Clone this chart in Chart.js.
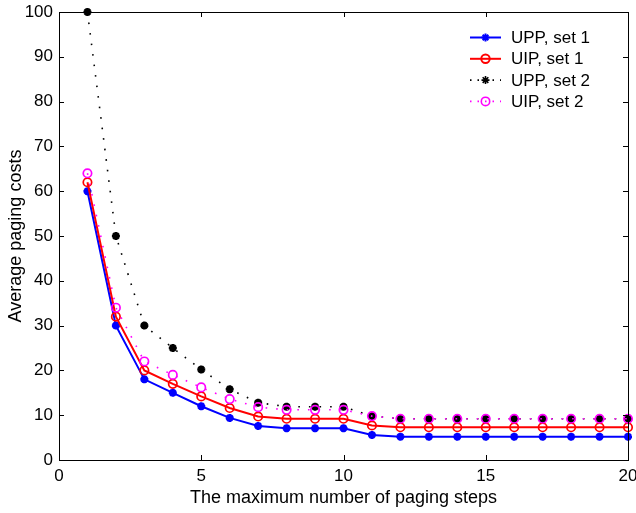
<!DOCTYPE html>
<html lang="en">
<head>
    <meta charset="UTF-8">
    <title>Average paging costs</title>
    <script src="https://cdn.jsdelivr.net/npm/chart.js"></script>
    <style>
        body { margin: 0; background: #fff; }
    </style>
</head>
<body>
    <canvas id="pagingChart" width="636" height="513"></canvas>

    <script>
        // values
        const steps = [1, 2, 3, 4, 5, 6, 7, 8, 9, 10, 11, 12, 13, 14, 15, 16, 17, 18, 19, 20];
        const uppSet1 = [60, 30, 18, 15, 12, 9.4, 7.6, 7.1, 7.1, 7.1, 5.6, 5.2, 5.2, 5.2, 5.2, 5.2, 5.2, 5.2, 5.2, 5.2];
        const uipSet1 = [62, 32, 20, 17, 14.2, 11.6, 9.7, 9.2, 9.2, 9.2, 7.7, 7.3, 7.3, 7.3, 7.3, 7.3, 7.3, 7.3, 7.3, 7.3];
        const uppSet2 = [100, 50, 30, 25, 20.2, 15.8, 12.8, 11.9, 11.9, 11.9, 9.8, 9.2, 9.2, 9.2, 9.2, 9.2, 9.2, 9.2, 9.2, 9.2];
        const uipSet2 = [64, 34, 22, 19, 16.2, 13.6, 11.8, 11.2, 11.2, 11.2, 9.8, 9.2, 9.2, 9.2, 9.2, 9.2, 9.2, 9.2, 9.2, 9.2];

        const xTicks = [0, 5, 10, 15, 20];
        const yTicks = [0, 10, 20, 30, 40, 50, 60, 70, 80, 90, 100];

        const points = vals => steps.map((s, i) => ({ x: s, y: vals[i] }));

        Chart.defaults.font.family = '"Liberation Sans", Arial, Helvetica, sans-serif';
        Chart.defaults.font.size = 17;
        Chart.defaults.color = '#000';

        // matlab style box with inward ticks
        const framePlugin = {
            id: 'frame',
            afterDatasetsDraw(chart) {
                const { ctx, chartArea: a, scales } = chart;
                const len = 5;
                ctx.save();
                ctx.strokeStyle = '#000';
                ctx.lineWidth = 1;
                ctx.beginPath();
                xTicks.forEach(v => {
                    const px = Math.round(scales.x.getPixelForValue(v)) + 0.5;
                    ctx.moveTo(px, a.bottom); ctx.lineTo(px, a.bottom - len);
                    ctx.moveTo(px, a.top); ctx.lineTo(px, a.top + len);
                });
                yTicks.forEach(v => {
                    const py = Math.round(scales.y.getPixelForValue(v)) + 0.5;
                    ctx.moveTo(a.left, py); ctx.lineTo(a.left + len, py);
                    ctx.moveTo(a.right, py); ctx.lineTo(a.right - len, py);
                });
                ctx.stroke();
                ctx.strokeRect(Math.round(a.left) + 0.5, Math.round(a.top) + 0.5,
                    Math.round(a.right - a.left), Math.round(a.bottom - a.top));
                ctx.restore();
            }
        };

        // legend in the top right corner, line + marker + label
        const legendPlugin = {
            id: 'boxLegend',
            afterDraw(chart) {
                const { ctx, chartArea: a } = chart;
                const x0 = a.right - 158, x1 = a.right - 127, tx = a.right - 117;
                ctx.save();
                chart.data.datasets.forEach((ds, i) => {
                    const y = a.top + 25.5 + i * 21.3;
                    ctx.strokeStyle = ds.borderColor;
                    ctx.lineWidth = ds.borderWidth;
                    ctx.setLineDash(ds.borderDash.length ? [1.5, 6] : []);
                    ctx.beginPath();
                    ctx.moveTo(x0, y); ctx.lineTo(x1, y);
                    ctx.stroke();
                    ctx.setLineDash([]);
                    ctx.strokeStyle = ds.pointBorderColor;
                    ctx.fillStyle = ds.pointBackgroundColor;
                    Chart.helpers.drawPoint(ctx, {
                        pointStyle: ds.pointStyle,
                        radius: ds.pointRadius,
                        borderWidth: ds.pointBorderWidth,
                        rotation: 0
                    }, (x0 + x1) / 2, y);
                    ctx.fillStyle = '#000';
                    ctx.font = '17px "Liberation Sans", Arial, sans-serif';
                    ctx.textBaseline = 'middle';
                    ctx.textAlign = 'left';
                    ctx.fillText(ds.label, tx, y + 1);
                });
                ctx.restore();
            }
        };

        function series(label, vals, color, dotted, style, order) {
            return {
                label: label,
                data: points(vals),
                borderColor: color,
                borderWidth: dotted ? 1.6 : 2,
                borderDash: dotted ? [1.6, 9] : [],
                pointStyle: style,
                pointRadius: style === 'star' ? 4 : 4.2,
                pointBorderWidth: style === 'star' ? 2.6 : 1.7,
                pointBorderColor: color,
                pointBackgroundColor: style === 'star' ? color : 'rgba(0,0,0,0)',
                tension: 0,
                clip: false,
                order: order
            };
        }

        new Chart(document.getElementById('pagingChart').getContext('2d'), {
            type: 'line',
            data: {
                datasets: [
                    series('UPP, set 1', uppSet1, '#0000ff', false, 'star', 3),
                    series('UIP, set 1', uipSet1, '#ff0000', false, 'circle', 2),
                    series('UPP, set 2', uppSet2, '#000000', true, 'star', 1),
                    series('UIP, set 2', uipSet2, '#ff00ff', true, 'circle', 0)
                ]
            },
            options: {
                responsive: false,
                animation: false,
                layout: { padding: { top: 12, right: 8, left: 0, bottom: 0 } },
                plugins: {
                    legend: { display: false },
                    tooltip: { enabled: false }
                },
                scales: {
                    x: {
                        type: 'linear',
                        min: 0,
                        max: 20,
                        grid: { display: false, drawTicks: false },
                        border: { display: false },
                        afterBuildTicks: s => { s.ticks = xTicks.map(v => ({ value: v })); },
                        ticks: { padding: 6, maxRotation: 0 },
                        title: {
                            display: true,
                            text: 'The maximum number of paging steps',
                            font: { size: 18 },
                            padding: { top: 0, bottom: 4 }
                        },
                        afterFit: s => { s.height = 53; s.paddingLeft = 0; s.paddingRight = 0; }
                    },
                    y: {
                        min: 0,
                        max: 100,
                        grid: { display: false, drawTicks: false },
                        border: { display: false },
                        afterBuildTicks: s => { s.ticks = yTicks.map(v => ({ value: v })); },
                        ticks: { padding: 6 },
                        title: {
                            display: true,
                            text: 'Average paging costs',
                            font: { size: 18 },
                            padding: { top: 5, bottom: 0 }
                        },
                        afterFit: s => { s.width = 59; s.paddingTop = 0; s.paddingBottom = 0; }
                    }
                }
            },
            plugins: [framePlugin, legendPlugin]
        });
    </script>
</body>
</html>
